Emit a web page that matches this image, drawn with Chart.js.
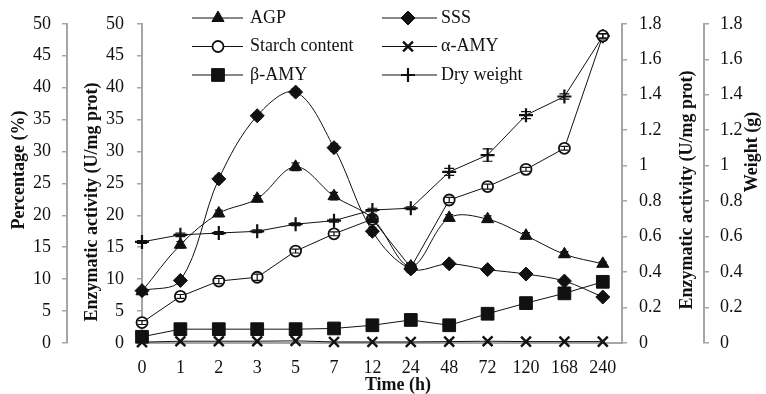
<!DOCTYPE html>
<html>
<head>
<meta charset="utf-8">
<script src="https://cdn.jsdelivr.net/npm/chart.js@4/dist/chart.umd.min.js"></script>
<style>
    body { margin: 0; background: #fff; }
    #wrap { width: 766px; height: 394px; }
</style>
</head>
<body>
<div id="wrap"><canvas id="chart" width="766" height="394"></canvas></div>
<script>
// Time points (h)
const timeLabels = ['0', '1', '2', '3', '5', '7', '12', '24', '48', '72', '120', '168', '240'];

// Series values
const agp = [8.1, 15.4, 20.3, 22.6, 27.6, 23.0, 19.5, 12.0, 19.6, 19.4, 16.8, 13.9, 12.4];
const sss = [8.2, 9.8, 25.7, 35.6, 39.3, 30.6, 17.5, 11.6, 12.4, 11.5, 10.8, 9.7, 7.2];
const starch = [3.2, 7.3, 9.7, 10.3, 14.4, 17.1, 19.4, 11.8, 22.4, 24.5, 27.2, 30.5, 48.1];
const alphaAmy = [0.005, 0.01, 0.01, 0.01, 0.012, 0.006, 0.006, 0.006, 0.008, 0.01, 0.008, 0.008, 0.008];
const betaAmy = [0.035, 0.078, 0.078, 0.078, 0.078, 0.082, 0.1, 0.13, 0.1, 0.165, 0.225, 0.28, 0.345];
const dryWeight = [0.57, 0.61, 0.62, 0.63, 0.67, 0.69, 0.75, 0.76, 0.965, 1.06, 1.285, 1.39, 1.73];

// Error bars (same units as the series)
const agpErr = [0.4, 0.5, 0.5, 0.5, 0.6, 0.6, 0.5, 0.5, 0.5, 0.5, 0.5, 0.4, 0.3];
const sssErr = [0.3, 0.3, 0.5, 0.5, 0.5, 0.6, 0.6, 0.5, 0.5, 0.4, 0.3, 0.3, 0.3];
const starchErr = [0.3, 0.3, 0.4, 0.5, 0.3, 0.3, 0.5, 0.3, 0.4, 0.4, 0.3, 0.3, 0.3];
const dryErr = [0.008, 0.01, 0.008, 0.008, 0.008, 0.008, 0.01, 0.008, 0.02, 0.035, 0.02, 0.015, 0.015];

// Axis tick settings
const pctTicks = { min: 0, max: 50, step: 5 };
const rightTicks = { min: 0, max: 1.8, step: 0.2 };

const FONT = '"Liberation Serif", "Times New Roman", serif';
const AXIS_GRAY = '#a6a6a6';

const toPoints = arr => arr.map((v, i) => ({ x: i, y: v }));

function series(label, values, axis, style, extra) {
    return Object.assign({
        label: label,
        data: toPoints(values),
        yAxisID: axis,
        borderColor: '#111',
        borderWidth: 1,
        pointStyle: style,
        pointBackgroundColor: '#111',
        pointBorderColor: '#111',
        pointBorderWidth: 1,
        tension: 0,
        clip: false
    }, extra || {});
}

const datasets = [
    series('AGP', agp, 'yEnz', 'triangle', { pointRadius: 7, tension: 0.35, errors: agpErr }),
    series('SSS', sss, 'yEnz', 'rectRot', { pointRadius: 7, tension: 0.35, errors: sssErr }),
    series('Starch content', starch, 'yPct', 'circle', { pointRadius: 5.5, pointBackgroundColor: '#fff', pointBorderWidth: 1.8, errors: starchErr }),
    series('α-AMY', alphaAmy, 'yEnz2', 'crossRot', { pointRadius: 7, pointBorderWidth: 2.4 }),
    series('β-AMY', betaAmy, 'yEnz2', 'rect', { pointRadius: 9 }),
    series('Dry weight', dryWeight, 'yWt', 'cross', { pointRadius: 7, pointBorderWidth: 2.2, errors: dryErr })
];

// Error bars
const errorBars = {
    id: 'errorBars',
    afterDatasetsDraw(chart) {
        const ctx = chart.ctx;
        ctx.save();
        ctx.strokeStyle = '#111';
        ctx.lineWidth = 1.2;
        chart.data.datasets.forEach((ds, i) => {
            if (!ds.errors) return;
            const meta = chart.getDatasetMeta(i);
            const scale = chart.scales[ds.yAxisID];
            meta.data.forEach((pt, j) => {
                const v = ds.data[j].y, e = ds.errors[j];
                const y1 = scale.getPixelForValue(v + e);
                const y2 = scale.getPixelForValue(v - e);
                const cap = ds.label === 'Dry weight' ? 5 : 4;
                ctx.beginPath();
                ctx.moveTo(pt.x, y1); ctx.lineTo(pt.x, y2);
                ctx.moveTo(pt.x - cap, y1); ctx.lineTo(pt.x + cap, y1);
                ctx.moveTo(pt.x - cap, y2); ctx.lineTo(pt.x + cap, y2);
                ctx.stroke();
            });
        });
        ctx.restore();
    }
};

// Two-column legend and axis titles drawn by hand
const extras = {
    id: 'extras',
    afterDraw(chart) {
        const ctx = chart.ctx;
        ctx.save();
        // legend
        const cols = [{ x0: 192, x1: 243, mx: 218, tx: 250 }, { x0: 382, x1: 437, mx: 408, tx: 441 }];
        const rows = [18, 46.5, 75];
        ctx.font = '18px ' + FONT;
        ctx.textBaseline = 'middle';
        ctx.textAlign = 'left';
        chart.data.datasets.forEach((ds, i) => {
            const c = cols[i % 2], y = rows[Math.floor(i / 2)];
            ctx.strokeStyle = '#111';
            ctx.lineWidth = 1;
            ctx.beginPath();
            ctx.moveTo(c.x0, y); ctx.lineTo(c.x1, y);
            ctx.stroke();
            ctx.fillStyle = ds.pointBackgroundColor;
            ctx.strokeStyle = ds.pointBorderColor;
            ctx.lineWidth = ds.pointBorderWidth;
            Chart.helpers.drawPoint(ctx, {
                pointStyle: ds.pointStyle, radius: ds.pointRadius,
                borderWidth: ds.pointBorderWidth, rotation: 0
            }, c.mx, y);
            ctx.fillStyle = '#111';
            ctx.fillText(ds.label, c.tx, y);
        });

        // axis titles
        ctx.font = 'bold 18px ' + FONT;
        ctx.fillStyle = '#111';
        ctx.textAlign = 'center';
        const vTitles = [
            ['Percentage (%)', 19, 170],
            ['Enzymatic activity (U/mg prot)', 92, 202],
            ['Enzymatic activity (U/mg prot)', 687, 190],
            ['Weight (g)', 752, 152]
        ];
        vTitles.forEach(([t, x, y]) => {
            ctx.save();
            ctx.translate(x, y);
            ctx.rotate(-Math.PI / 2);
            ctx.fillText(t, 0, 0);
            ctx.restore();
        });
        ctx.fillText('Time (h)', 398, 385);
        ctx.restore();
    }
};

function yAxis(position, weight, range, width, pad) {
    return {
        type: 'linear',
        position: position,
        weight: weight,
        min: range.min,
        max: range.max,
        grid: { drawOnChartArea: false, drawTicks: true, tickLength: 5, color: AXIS_GRAY, lineWidth: 1.5 },
        border: { display: true, color: AXIS_GRAY, width: 2 },
        ticks: {
            stepSize: range.step,
            padding: pad,
            color: '#111',
            font: { family: FONT, size: 18 },
            callback: v => Number(v.toFixed(1)).toString()
        },
        afterFit: s => { s.width = width; }
    };
}

new Chart(document.getElementById('chart'), {
    type: 'line',
    data: { datasets: datasets },
    options: {
        responsive: false,
        animation: false,
        layout: { padding: { top: 21, bottom: 0, left: 0, right: 0 } },
        plugins: { legend: { display: false }, tooltip: { enabled: false } },
        scales: {
            x: {
                type: 'linear',
                min: 0,
                max: 12.5,
                grid: { display: false },
                border: { display: true, color: AXIS_GRAY, width: 2 },
                ticks: {
                    autoSkip: false,
                    maxRotation: 0,
                    padding: 6,
                    color: '#111',
                    font: { family: FONT, size: 18 },
                    callback: v => timeLabels[v]
                },
                afterBuildTicks: s => { s.ticks = timeLabels.map((t, i) => ({ value: i })); },
                afterFit: s => { s.height = 51; }
            },
            yPct: yAxis('left', 2, pctTicks, 67, 11),
            yEnz: yAxis('left', 1, pctTicks, 75, 13),
            yEnz2: yAxis('right', 1, rightTicks, 82, 12),
            yWt: yAxis('right', 2, rightTicks, 62, 11)
        }
    },
    plugins: [errorBars, extras]
});
</script>
</body>
</html>
